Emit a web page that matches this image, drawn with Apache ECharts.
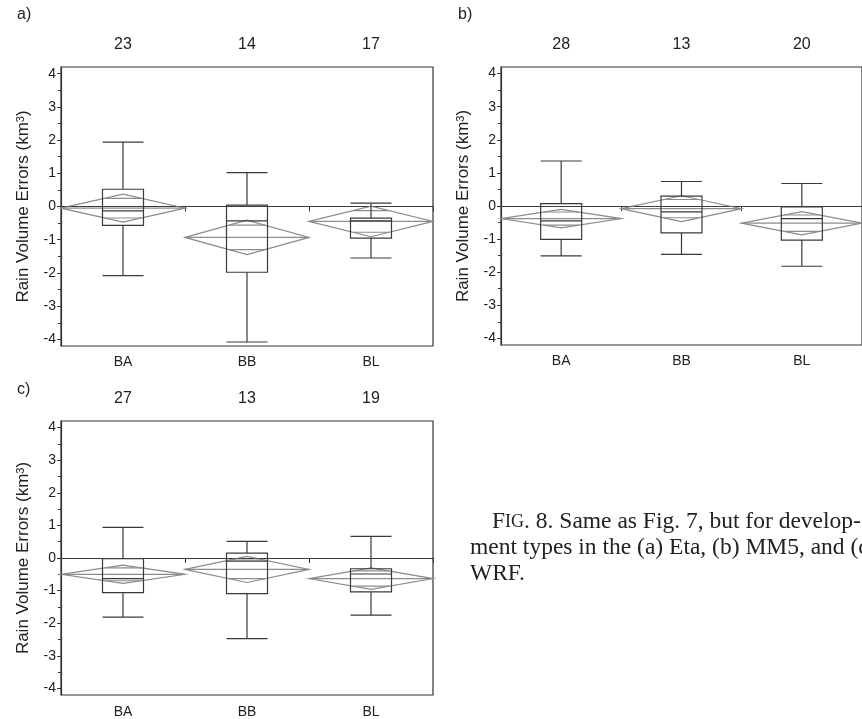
<!DOCTYPE html>
<html>
<head>
<meta charset="utf-8">
<script src="https://cdn.jsdelivr.net/npm/echarts@6/dist/echarts.min.js"></script>
<style>
html,body{margin:0;padding:0;background:#fff;}
#chart{width:862px;height:719px;}
</style>
</head>
<body>
<div id="chart"></div>
<script>
// ---- data ----
const categories = ['BA', 'BB', 'BL'];
const yMajorTicks = [-4, -3, -2, -1, 0, 1, 2, 3, 4];
const yMinorTicks = [-3.5, -2.5, -1.5, -0.5, 0.5, 1.5, 2.5, 3.5];
const yAxisTitle = 'Rain Volume Errors (km{sup|3})';

// panel a (Eta)
const countsA = ['23', '14', '17'];
// [min, Q1, median, Q3, max]
const boxA = [
  [-2.08, -0.57, -0.13, 0.52, 1.94],
  [-4.08, -1.98, -0.43, 0.04, 1.02],
  [-1.55, -0.95, -0.43, -0.35, 0.10]
];
const meanA = [-0.05, -0.93, -0.45];
const ciA = [0.42, 0.52, 0.46];

// panel b (MM5)
const countsB = ['28', '13', '20'];
const boxB = [
  [-1.51, -1.01, -0.45, 0.07, 1.36],
  [-1.46, -0.81, -0.18, 0.30, 0.74],
  [-1.82, -1.03, -0.38, -0.03, 0.68]
];
const meanB = [-0.38, -0.08, -0.52];
const ciB = [0.28, 0.39, 0.35];

// panel c (WRF)
const countsC = ['27', '13', '19'];
const boxC = [
  [-1.81, -1.06, -0.63, -0.02, 0.94],
  [-2.47, -1.09, -0.10, 0.15, 0.51],
  [-1.75, -1.04, -0.49, -0.33, 0.66]
];
const meanC = [-0.50, -0.35, -0.63];
const ciC = [0.28, 0.40, 0.33];

const panelLabels = ['a)', 'b)', 'c)'];
const captionLines = [
  'Same as Fig. 7, but for develop-',
  'ment types in the (a) Eta, (b) MM5, and (c)',
  'WRF.'
];

// ---- styling / layout ----
const FONT = '"Liberation Sans", Arial, sans-serif';
const SERIF = '"Liberation Serif", "Times New Roman", serif';
const AX = '#333';
const BOX = '#3a3a3a';
const DIA = '#8c8c8c';

const panels = [
  {counts: countsA, box: boxA, mean: meanA, ci: ciA, grid: {left: 61, top: 67, width: 372, height: 279}, label: panelLabels[0], lx: 17, ly: 7, lm: 9},
  {counts: countsB, box: boxB, mean: meanB, ci: ciB, grid: {left: 501, top: 67, width: 372, height: 278}, label: panelLabels[1], lx: 458, ly: 7, lm: 9},
  {counts: countsC, box: boxC, mean: meanC, ci: ciC, grid: {left: 61, top: 421, width: 372, height: 274}, label: panelLabels[2], lx: 17, ly: 382, lm: 10}
];

function diamondRender(params, api) {
  const c = api.value(0), m = api.value(1), h = api.value(2);
  const ctr = api.coord([c, m]);
  const w = api.size([1, 0])[0];
  const top = api.coord([c, m + h]);
  const bot = api.coord([c, m - h]);
  const k = Math.SQRT1_2;
  const ot = api.coord([c, m + h * k]);
  const ob = api.coord([c, m - h * k]);
  const x0 = ctr[0] - w / 2, x1 = ctr[0] + w / 2;
  const ow = (w / 2) * (1 - k);
  const st = {stroke: DIA, fill: null, lineWidth: 1.2};
  return {
    type: 'group',
    children: [
      {type: 'polygon', shape: {points: [[x0, ctr[1]], [ctr[0], top[1]], [x1, ctr[1]], [ctr[0], bot[1]]]}, style: st},
      {type: 'line', shape: {x1: x0, y1: ctr[1], x2: x1, y2: ctr[1]}, style: st},
      {type: 'line', shape: {x1: ctr[0] - ow, y1: ot[1], x2: ctr[0] + ow, y2: ot[1]}, style: st},
      {type: 'line', shape: {x1: ctr[0] - ow, y1: ob[1], x2: ctr[0] + ow, y2: ob[1]}, style: st}
    ]
  };
}

const grid = [], xAxis = [], yAxis = [], series = [], graphic = [];
panels.forEach((p, i) => {
  grid.push(Object.assign({show: true, borderColor: AX, borderWidth: 1.2, backgroundColor: 'transparent'}, p.grid));
  // bottom category axis
  xAxis.push({
    type: 'category', gridIndex: i, data: categories, position: 'bottom', boundaryGap: true,
    axisLine: {show: true, lineStyle: {color: AX, width: 1.2}},
    axisTick: {show: true, length: 5, alignWithLabel: false, interval: 0, lineStyle: {color: AX}},
    axisLabel: {fontFamily: FONT, fontSize: 14, color: '#222', margin: p.lm},
    splitLine: {show: false}
  });
  // top: counts
  xAxis.push({
    type: 'category', gridIndex: i, data: p.counts, position: 'top', boundaryGap: true,
    axisLine: {show: false}, axisTick: {show: false},
    axisLabel: {fontFamily: FONT, fontSize: 16, color: '#222', margin: 14},
    splitLine: {show: false}
  });
  yAxis.push({
    type: 'value', gridIndex: i, min: -4.2, max: 4.2, position: 'left',
    name: yAxisTitle, nameLocation: 'middle', nameGap: 29,
    nameTextStyle: {
      fontFamily: FONT, fontSize: 17, color: '#222',
      rich: {sup: {fontFamily: FONT, fontSize: 11, color: '#222', verticalAlign: 'top', lineHeight: 14}}
    },
    axisLine: {show: true, lineStyle: {color: AX, width: 1.2}},
    axisTick: {show: true, length: 4, customValues: yMajorTicks, lineStyle: {color: AX}},
    axisLabel: {customValues: yMajorTicks, fontFamily: FONT, fontSize: 14, color: '#222', margin: 5},
    splitLine: {show: false}
  });
  yAxis.push({
    type: 'value', gridIndex: i, min: -4.2, max: 4.2, position: 'left',
    axisLine: {show: false},
    axisTick: {show: true, length: 3, customValues: yMinorTicks, lineStyle: {color: AX}},
    axisLabel: {show: false},
    splitLine: {show: false}
  });
  const xi = i * 2, yi = i * 2;
  series.push({
    type: 'custom', xAxisIndex: xi, yAxisIndex: yi, renderItem: diamondRender,
    data: p.mean.map((m, j) => [j, m, p.ci[j]]),
    silent: true, z: 2
  });
  series.push({
    type: 'boxplot', xAxisIndex: xi, yAxisIndex: yi, data: p.box,
    boxWidth: [41, 41],
    itemStyle: {color: 'rgba(0,0,0,0)', borderColor: BOX, borderWidth: 1.2},
    silent: true, z: 3,
    markLine: {
      symbol: 'none', silent: true, label: {show: false},
      lineStyle: {type: [1.5, 1.5], color: '#444', width: 1},
      data: [{yAxis: 0}]
    }
  });
  graphic.push({type: 'text', left: p.lx, top: p.ly, style: {text: p.label, font: '16px ' + FONT, fill: '#222'}});
});

// caption
const CAP = 23.5;
graphic.push({
  type: 'text', left: 492, top: 510,
  style: {
    text: '{sc1|F}{sc2|IG}{n|. 8. ' + captionLines[0] + '}',
    rich: {
      sc1: {font: CAP + 'px ' + SERIF, fill: '#222'},
      sc2: {font: Math.round(CAP * 0.78) + 'px ' + SERIF, fill: '#222'},
      n: {font: CAP + 'px ' + SERIF, fill: '#222'}
    }
  }
});
graphic.push({type: 'text', left: 470, top: 536, style: {text: captionLines[1], font: CAP + 'px ' + SERIF, fill: '#222'}});
graphic.push({type: 'text', left: 470, top: 562, style: {text: captionLines[2], font: CAP + 'px ' + SERIF, fill: '#222'}});

const chart = echarts.init(document.getElementById('chart'), null, {renderer: 'canvas'});
chart.setOption({animation: false, backgroundColor: '#fff', grid, xAxis, yAxis, series, graphic});
</script>
</body>
</html>
